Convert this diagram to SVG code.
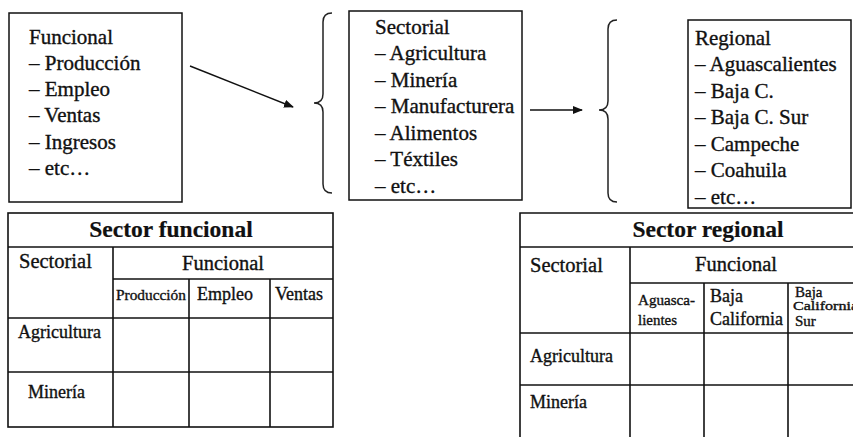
<svg xmlns="http://www.w3.org/2000/svg" width="853" height="437" viewBox="0 0 853 437">
<defs>
<marker id="ah" markerWidth="10" markerHeight="8" refX="9" refY="4" orient="auto" markerUnits="userSpaceOnUse">
<path d="M0,0 L10,4 L0,8 Z" fill="#111"/>
</marker>
<style>
text{font-family:"Liberation Serif","Times New Roman",serif;fill:#111;stroke:#111;stroke-width:0.35}
.box{fill:#fff;stroke:#111;stroke-width:1.5}
.it{font-size:21px}
.br{fill:none;stroke:#222;stroke-width:1.5}
.grid{fill:none;stroke:#111;stroke-width:1.6}
.ttl{font-size:23.5px;font-weight:bold;stroke-width:0.2}
.hd{font-size:20.5px}
.sm{font-size:18px}
.xs{font-size:15px}
.cn{text-anchor:middle}
</style>
</defs>
<rect width="853" height="437" fill="#fff"/>

<g id="funcional">
<rect class="box" x="9" y="13" width="173" height="189"/>
<text class="it" x="29" y="44">Funcional</text>
<text class="it" x="29" y="70">– Producción</text>
<text class="it" x="29" y="96">– Empleo</text>
<text class="it" x="29" y="122">– Ventas</text>
<text class="it" x="29" y="149">– Ingresos</text>
<text class="it" x="29" y="175">– etc…</text>
</g>

<g id="sectorial">
<path class="br" d="M332,13 Q323,13 323,22 L323,94 Q323,103 314,103 Q323,103 323,112 L323,184 Q323,193 332,193"/>
<rect class="box" x="349" y="11" width="173" height="189"/>
<text class="it" x="375" y="34">Sectorial</text>
<text class="it" x="375" y="60">– Agricultura</text>
<text class="it" x="375" y="87">– Minería</text>
<text class="it" x="375" y="113">– Manufacturera</text>
<text class="it" x="375" y="140">– Alimentos</text>
<text class="it" x="375" y="166">– Téxtiles</text>
<text class="it" x="375" y="193">– etc…</text>
</g>

<g id="regional">
<path class="br" d="M617,20 Q608,20 608,29 L608,101 Q608,110 599,110 Q608,110 608,119 L608,193 Q608,202 617,202"/>
<rect class="box" x="688" y="20" width="163" height="188"/>
<text class="it" x="695" y="45">Regional</text>
<text class="it" x="695" y="71">– Aguascalientes</text>
<text class="it" x="695" y="98">– Baja C.</text>
<text class="it" x="695" y="124">– Baja C. Sur</text>
<text class="it" x="695" y="151">– Campeche</text>
<text class="it" x="695" y="177">– Coahuila</text>
<text class="it" x="695" y="204">– etc…</text>
</g>

<g id="connectors">
<line x1="190" y1="66" x2="293" y2="107" stroke="#111" stroke-width="1.4" marker-end="url(#ah)"/>
<line x1="530" y1="110" x2="582" y2="110" stroke="#111" stroke-width="1.4" marker-end="url(#ah)"/>
</g>

<g id="tabla-funcional">
<rect class="grid" x="8" y="213" width="325" height="214"/>
<line class="grid" x1="8" y1="247" x2="333" y2="247"/>
<line class="grid" x1="113" y1="279" x2="333" y2="279"/>
<line class="grid" x1="8" y1="318" x2="333" y2="318"/>
<line class="grid" x1="8" y1="372" x2="333" y2="372"/>
<line class="grid" x1="113" y1="247" x2="113" y2="427"/>
<line class="grid" x1="189" y1="279" x2="189" y2="427"/>
<line class="grid" x1="270" y1="279" x2="270" y2="427"/>
<text class="ttl cn" x="171" y="237">Sector funcional</text>
<text class="hd" x="19" y="268">Sectorial</text>
<text class="hd cn" x="223" y="270">Funcional</text>
<text class="xs" x="116" y="300" textLength="70" lengthAdjust="spacingAndGlyphs">Producción</text>
<text class="sm" x="197" y="300">Empleo</text>
<text class="sm" x="275" y="300">Ventas</text>
<text class="sm" x="18" y="338" textLength="83" lengthAdjust="spacingAndGlyphs">Agricultura</text>
<text class="sm" x="28" y="398">Minería</text>
</g>

<g id="tabla-regional">
<path class="grid" d="M860,213 L520,213 L520,440"/>
<line class="grid" x1="520" y1="247" x2="860" y2="247"/>
<line class="grid" x1="630" y1="283" x2="860" y2="283"/>
<line class="grid" x1="520" y1="333" x2="860" y2="333"/>
<line class="grid" x1="520" y1="385" x2="860" y2="385"/>
<line class="grid" x1="630" y1="247" x2="630" y2="440"/>
<line class="grid" x1="704" y1="283" x2="704" y2="440"/>
<line class="grid" x1="788" y1="283" x2="788" y2="440"/>
<text class="ttl cn" x="708" y="237">Sector regional</text>
<text class="hd" x="530" y="272">Sectorial</text>
<text class="hd cn" x="736" y="271">Funcional</text>
<text class="xs" x="638" y="305" textLength="57" lengthAdjust="spacingAndGlyphs">Aguasca-</text>
<text class="xs" x="638" y="325" textLength="39" lengthAdjust="spacingAndGlyphs">lientes</text>
<text class="sm" x="710" y="302">Baja</text>
<text class="sm" x="710" y="325">California</text>
<text x="795" y="297" font-size="15">Baja</text>
<text x="793" y="310" font-size="12" textLength="65" lengthAdjust="spacingAndGlyphs">California</text>
<text x="795" y="326" font-size="15">Sur</text>
<text class="sm" x="530" y="362">Agricultura</text>
<text class="sm" x="530" y="408">Minería</text>
</g>
</svg>
